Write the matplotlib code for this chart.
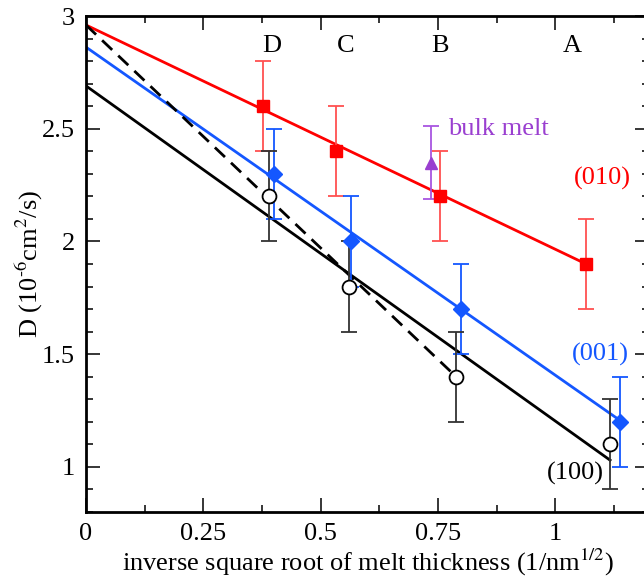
import numpy as np
from matplotlib import pyplot as plt
from matplotlib.ticker import MultipleLocator

# (010) red squares
x010 = [0.377, 0.533, 0.755, 1.066]
y010 = [2.6, 2.4, 2.2, 1.9]
e010 = [0.2, 0.2, 0.2, 0.2]
fit010 = ([0.0, 1.066], [2.96, 1.90])

# (001) blue diamonds
x001 = [0.40, 0.565, 0.80, 1.139]
y001 = [2.3, 2.0, 1.7, 1.2]
e001 = [0.2, 0.2, 0.2, 0.2]
fit001 = ([0.0, 1.139], [2.862, 1.205])

# (100) open circles
x100 = [0.39, 0.56, 0.789, 1.117]
y100 = [2.2, 1.8, 1.4, 1.1]
e100 = [0.2, 0.2, 0.2, 0.2]
fit100 = ([0.0, 1.117], [2.69, 1.03])
fit100_dash = ([0.0, 0.789], [2.96, 1.40])

# bulk melt
xbulk = [0.735]
ybulk = [2.35]
ebulk = [0.16]

letters = ['D', 'C', 'B', 'A']
letter_x = [0.395, 0.554, 0.755, 1.036]

red = '#ff0000'
blue = '#1457ff'
purple = '#9a3fd0'

plt.rcParams['font.family'] = ['Liberation Serif', 'DejaVu Serif']
plt.rcParams['mathtext.fontset'] = 'stix'

fig = plt.figure(figsize=(6.44, 5.8), dpi=100)
ax = fig.add_axes([86 / 644, 1 - 512 / 580, 563 / 644, 496 / 580])

ax.plot(*fit010, color=red, lw=2)
ax.plot(*fit001, color=blue, lw=2)
ax.plot(*fit100, color='black', lw=2)
ax.plot(*fit100_dash, color='black', lw=2, ls=(0, (5, 3)))

ax.errorbar(x010, y010, yerr=e010, fmt='s', color=red, ecolor='#ff5050',
            ms=9, capsize=6, elinewidth=1.3, capthick=1.3)
ax.errorbar(x001, y001, yerr=e001, fmt='D', color=blue, ecolor=blue,
            ms=8, capsize=6, elinewidth=1.3, capthick=1.3)
ax.errorbar(x100, y100, yerr=e100, fmt='o', mfc='white', mec='black', mew=1.3,
            ecolor='#333333', ms=10, capsize=6, elinewidth=1.3, capthick=1.3)
ax.errorbar(xbulk, ybulk, yerr=ebulk, fmt='^', color=purple, ecolor='#a855e0',
            ms=9, capsize=6, elinewidth=1.3, capthick=1.3)

fs = 19
for lab, lx in zip(letters, letter_x):
    ax.text(lx, 2.865, lab, fontsize=fs, ha='center', va='center')

ax.text(0.772, 2.5, 'bulk melt', color=purple, fontsize=fs, ha='left', va='center')
ax.text(1.10, 2.28, '(010)', color=red, fontsize=fs, ha='center', va='center')
ax.text(1.096, 1.497, '(001)', color=blue, fontsize=fs, ha='center', va='center')
ax.text(1.043, 0.97, '(100)', color='black', fontsize=fs, ha='center', va='center')

ax.set_xlim(0, 1.2)
ax.set_ylim(0.8, 3)
ax.xaxis.set_major_locator(MultipleLocator(0.25))
ax.xaxis.set_minor_locator(MultipleLocator(0.125))
ax.yaxis.set_major_locator(MultipleLocator(0.5))
ax.yaxis.set_minor_locator(MultipleLocator(0.1))
ax.set_xticks([0, 0.25, 0.5, 0.75, 1])
ax.set_xticklabels(['0', '0.25', '0.5', '0.75', '1'])
ax.set_yticks([1, 1.5, 2, 2.5, 3])
ax.set_yticklabels(['1', '1.5', '2', '2.5', '3'])
ax.tick_params(which='both', direction='in', top=True, right=True,
               labelsize=fs, width=1.1)
ax.tick_params(which='major', length=10, pad=8)
ax.tick_params(which='minor', length=5)
for s in ax.spines.values():
    s.set_linewidth(2)

ax.set_xlabel('inverse square root of melt thickness (1/nm$^{1/2}$)', fontsize=fs, labelpad=1)
ax.set_ylabel('D (10$^{\\text{-}6}$cm$^{2}$/s)', fontsize=fs, labelpad=-2)

plt.savefig('out.png', dpi=100)
